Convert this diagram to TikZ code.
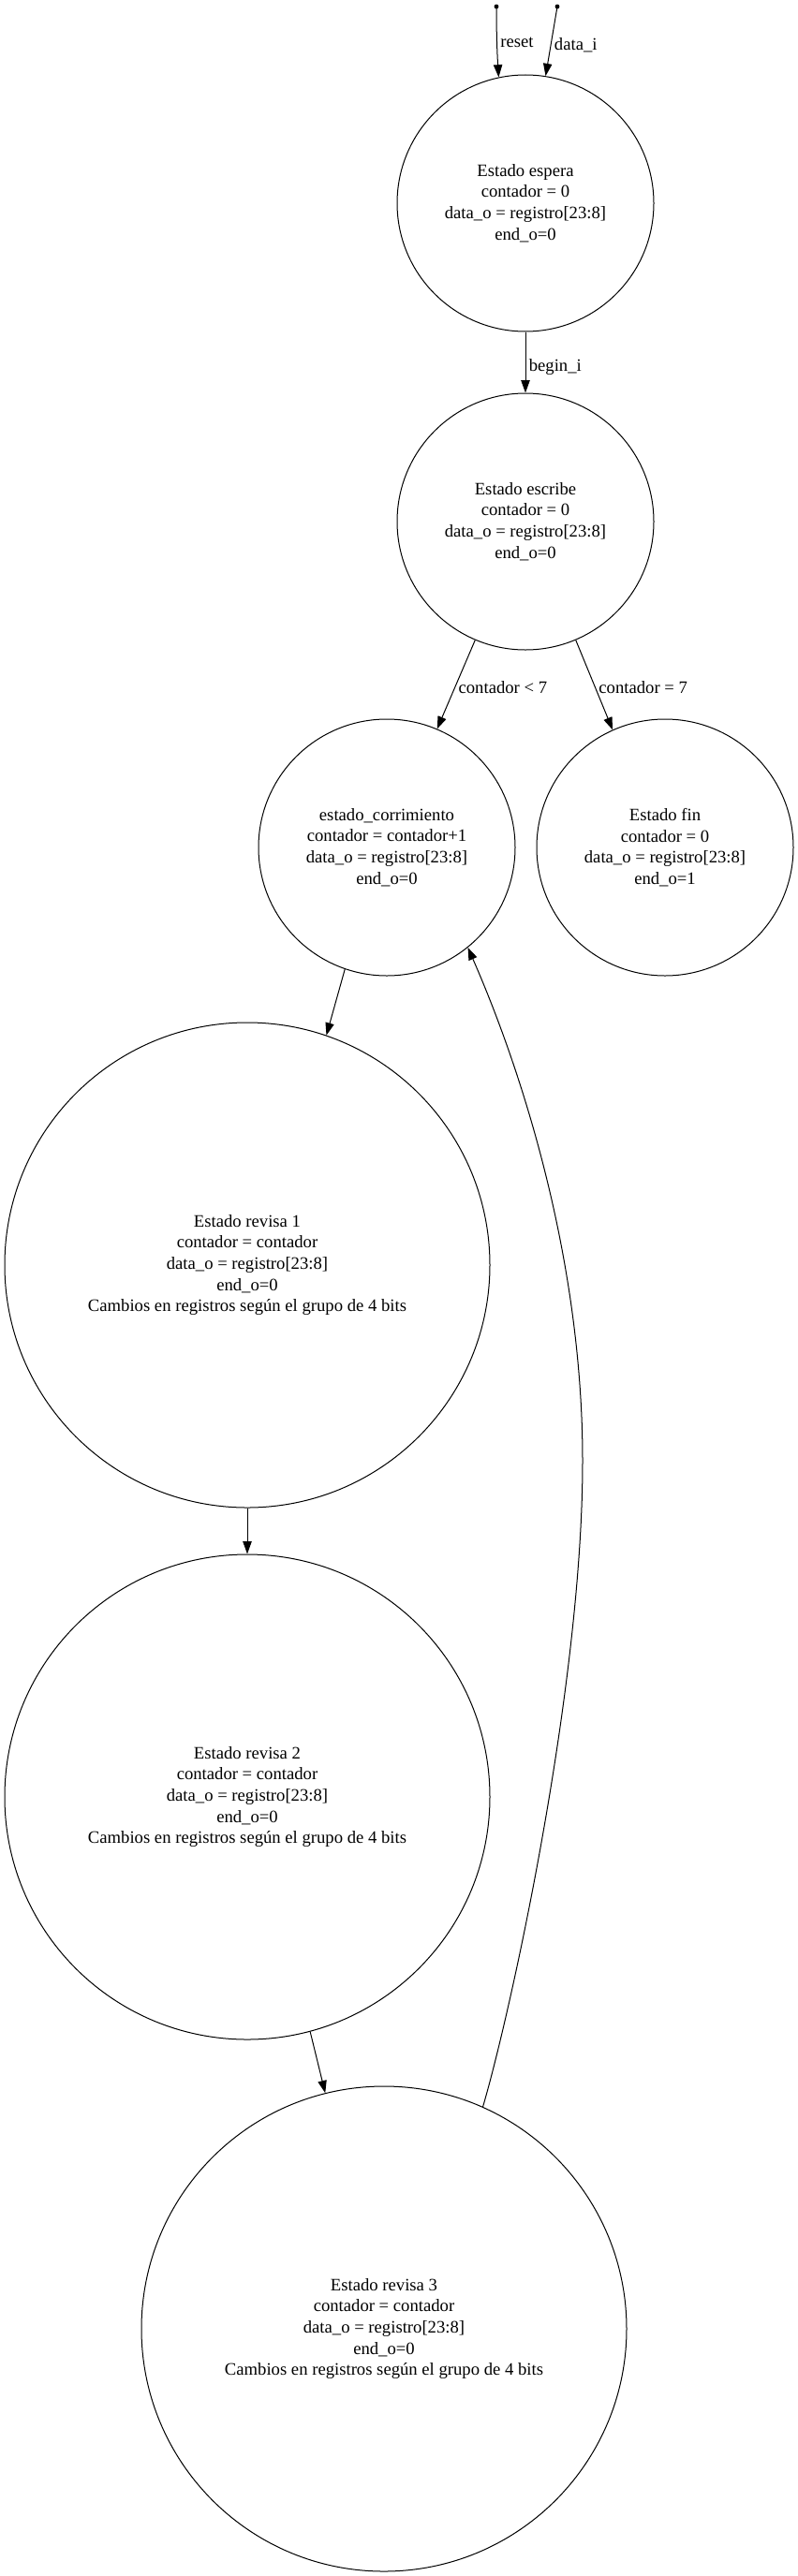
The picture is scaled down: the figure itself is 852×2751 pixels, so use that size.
\documentclass[tikz,border=0pt]{standalone}
\usepackage{fontspec}
\setmainfont{Liberation Serif}
\usetikzlibrary{arrows.meta}
\begin{document}
\begin{tikzpicture}[x=0.75pt, y=-0.75pt, >={Triangle[length=10pt,width=7pt]}, line width=0.75pt,
  every node/.style={font=\fontsize{14}{17}\selectfont},
  estado/.style={draw, circle, minimum size=205.5pt, inner sep=0pt, align=center},
  revisa/.style={draw, circle, minimum size=388.5pt, inner sep=0pt, align=center},
  etiqueta/.style={right, inner sep=2.5pt}]
\useasboundingbox (0,0) rectangle (852,2751);
% estados
\node[estado] (espera) at (561,217) {Estado espera\\contador = 0\\data\_o = registro[23:8]\\end\_o=0};
\node[estado] (escribe) at (561,557) {Estado escribe\\contador = 0\\data\_o = registro[23:8]\\end\_o=0};
\node[estado] (corrimiento) at (413,905) {estado\_corrimiento\\contador = contador+1\\data\_o = registro[23:8]\\end\_o=0};
\node[estado] (fin) at (710,905) {Estado fin\\contador = 0\\data\_o = registro[23:8]\\end\_o=1};
\node[revisa] (revisa1) at (264,1351) {Estado revisa 1\\contador = contador\\data\_o = registro[23:8]\\end\_o=0\\Cambios en registros según el grupo de 4 bits};
\node[revisa] (revisa2) at (264,1919) {Estado revisa 2\\contador = contador\\data\_o = registro[23:8]\\end\_o=0\\Cambios en registros según el grupo de 4 bits};
\node[revisa] (revisa3) at (410,2487) {Estado revisa 3\\contador = contador\\data\_o = registro[23:8]\\end\_o=0\\Cambios en registros según el grupo de 4 bits};
% entradas
\coordinate (ini_reset) at (530,7);
\coordinate (ini_data) at (595,7);
\fill (ini_reset) circle (1.8pt);
\fill (ini_data) circle (1.8pt);
\draw[->] (ini_reset) .. controls (530,40) and (531,60) .. (espera.102) node[etiqueta, pos=0.45]{reset};
\draw[->] (ini_data) -- (espera.81) node[etiqueta, pos=0.55]{data\_i};
% transiciones
\draw[->] (espera) -- (escribe) node[etiqueta, pos=0.57]{begin\_i};
\draw[->] (escribe.247) -- (corrimiento.67) node[etiqueta, pos=0.53]{contador < 7};
\draw[->] (escribe.293) -- (fin.114) node[etiqueta, pos=0.53]{contador = 7};
\draw[->] (corrimiento.251) -- (revisa1.71);
\draw[->] (revisa1) -- (revisa2);
\draw[->] (revisa2.-75) -- (revisa3.104);
\draw[->] (revisa3.66) .. controls (545,2150) and (622,1800) .. (622,1560)
  .. controls (622,1350) and (560,1150) .. (corrimiento.-51);
\end{tikzpicture}
\end{document}
